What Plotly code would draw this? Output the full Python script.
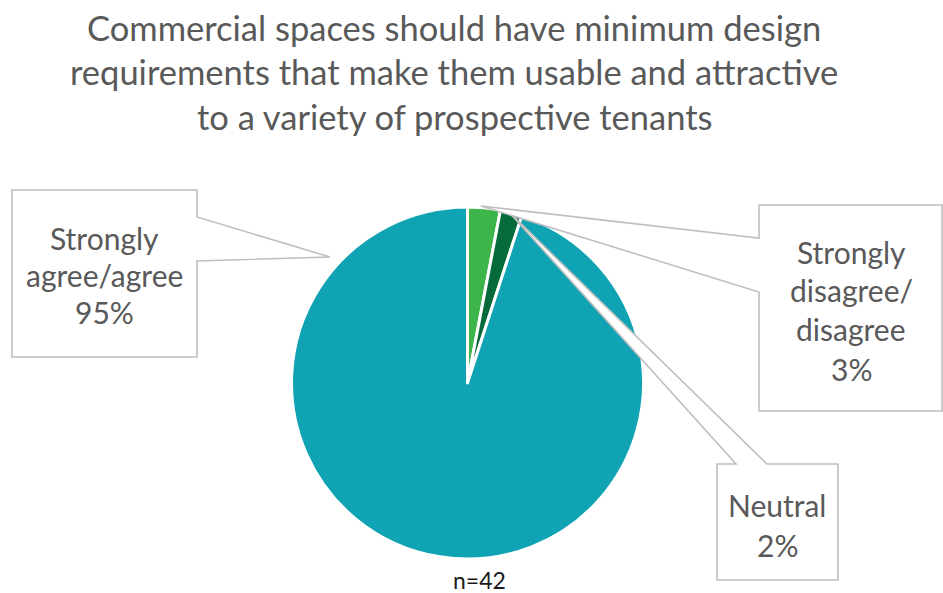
import plotly.graph_objects as go

# Survey responses (n = 42)
categories = ["Strongly disagree/disagree", "Neutral", "Strongly agree/agree"]
shares = [3, 2, 95]
colors = ["#3DB54A", "#066B3A", "#10A3B3"]
sample_label = "n=42"

title_lines = [
    "Commercial spaces should have minimum design",
    "requirements that make them usable and attractive",
    "to a variety of prospective tenants",
]

W, H = 943, 593
FONT = "Lato, 'Open Sans', sans-serif"
GREY_TEXT = "#595959"
BOX_LINE = "#BFBFBF"


def px(x, y):
    """Pixel position -> paper coordinates."""
    return x / W, 1 - y / H


def path_from(points):
    parts = []
    for i, (x, y) in enumerate(points):
        X, Y = px(x, y)
        parts.append(("M" if i == 0 else "L") + f"{X:.5f},{Y:.5f}")
    return " ".join(parts) + " Z"


# pie placement (centre and radius in pixels)
cx, cy, r = 467.5, 383, 176
x0, y_top = px(cx - r, cy - r)
x1, y_bot = px(cx + r, cy + r)

fig = go.Figure(
    go.Pie(
        labels=categories,
        values=shares,
        sort=False,
        direction="clockwise",
        rotation=0,
        marker=dict(colors=colors, line=dict(color="white", width=3)),
        textinfo="none",
        hoverinfo="label+percent",
        domain=dict(x=[x0, x1], y=[y_bot, y_top]),
        showlegend=False,
    )
)

# callout boxes with pointer wedges
callouts = [
    [(12, 190), (197, 190), (197, 217), (330, 257), (197, 261), (197, 357), (12, 357)],
    [(717, 464), (736, 464), (507, 210), (767, 464), (838, 464), (838, 580), (717, 580)],
    [(759, 205), (942, 205), (942, 411), (759, 411), (759, 292), (481, 206), (759, 238)],
]
shapes = [
    dict(
        type="path",
        xref="paper",
        yref="paper",
        path=path_from(pts),
        fillcolor="white",
        line=dict(color=BOX_LINE, width=1.6),
        layer="above",
    )
    for pts in callouts
]

annotations = []


def add_text(text, x, y, size, color=GREY_TEXT):
    X, Y = px(x, y)
    annotations.append(
        dict(
            text=text,
            x=X,
            y=Y,
            xref="paper",
            yref="paper",
            xanchor="center",
            yanchor="middle",
            showarrow=False,
            font=dict(family=FONT, size=size, color=color),
        )
    )


for line, y in zip(title_lines, [28, 72, 117]):
    add_text(line, 454, y, 34.5)

for line, y in zip(["Strongly", "agree/agree", "95%"], [238, 275, 312]):
    add_text(line, 104, y, 30)

for line, y in zip(["Strongly", "disagree/", "disagree", "3%"], [252, 290, 329, 369]):
    add_text(line, 851, y, 30)

for line, y in zip(["Neutral", "2%"], [505, 545]):
    add_text(line, 777, y, 30)

add_text(sample_label, 480, 580, 23, color="#1a1a1a")

fig.update_layout(
    width=W,
    height=H,
    margin=dict(l=0, r=0, t=0, b=0),
    paper_bgcolor="white",
    plot_bgcolor="white",
    shapes=shapes,
    annotations=annotations,
)

fig.write_html("out.html")
